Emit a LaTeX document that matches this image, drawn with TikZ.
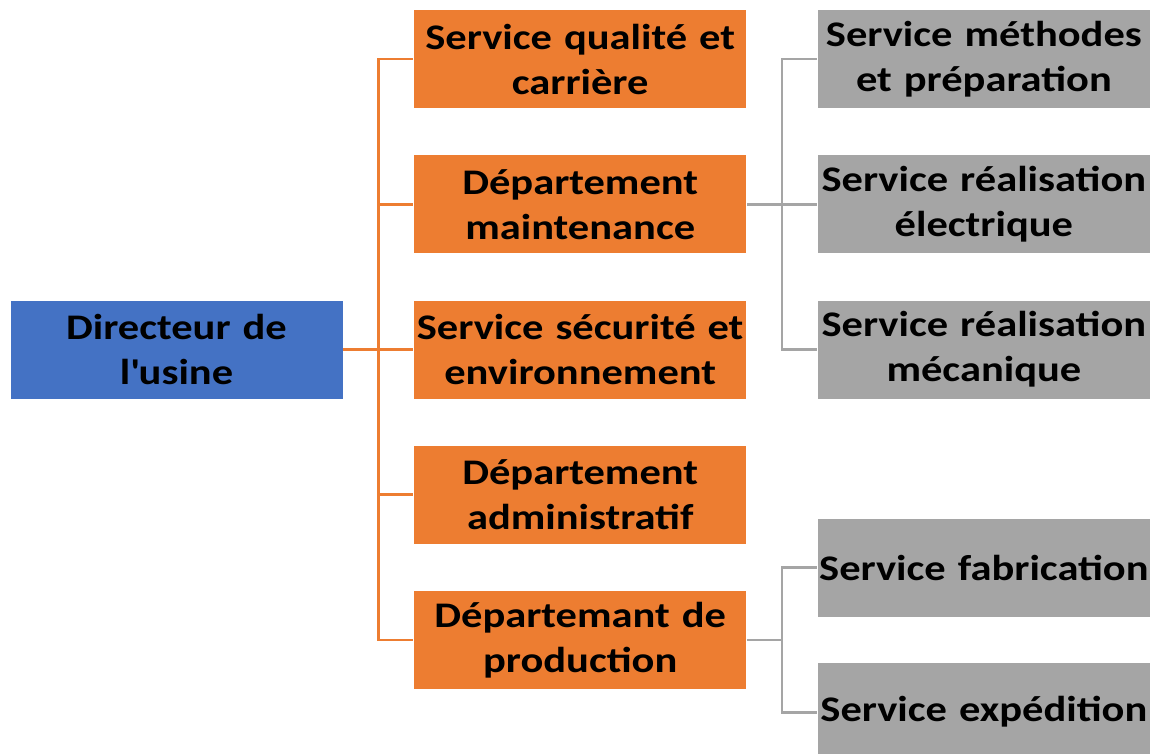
\documentclass[tikz,border=0pt]{standalone}
\usepackage{fontspec}
\setmainfont{Carlito}[FakeStretch=1.18]
\usepackage{tikz}
\usetikzlibrary{positioning}

\definecolor{dirblue}{HTML}{4472C4}
\definecolor{deporange}{HTML}{ED7D31}
\definecolor{servgrey}{HTML}{A5A5A5}

\begin{document}
\begin{tikzpicture}[node distance=0.91cm and 1.4cm]
  \tikzstyle{box}=[rectangle, draw=white, line width=0.4pt, minimum width=6.66cm, minimum height=1.98cm,
                   text width=6.6cm, align=center, inner sep=0pt, text=black,
                   font=\fontsize{20.5pt}{25.6pt}\selectfont\bfseries]
  \tikzstyle{dir}=[box, fill=dirblue]
  \tikzstyle{dep}=[box, fill=deporange]
  \tikzstyle{serv}=[box, fill=servgrey]
  \tikzstyle{orangeline}=[draw=deporange, line width=1.6pt]
  \tikzstyle{greyline}=[draw=servgrey, line width=1.6pt]

  \useasboundingbox (0,0) rectangle (23.06,-15.08);
  \clip (0,0) rectangle (23.06,-15.08);

  \node[dir]  (dir)   at (3.53,-6.99)       {Directeur de\\l\textquotesingle usine};
  \node[dep]  (secu)  [right=of dir]        {Service sécurité et\\environnement};
  \node[dep]  (maint) [above=of secu]       {Département\\maintenance};
  \node[dep]  (qual)  [above=of maint]      {Service qualité et\\carrière};
  \node[dep]  (admin) [below=of secu]       {Département\\administratif};
  \node[dep]  (prod)  [below=of admin]      {Départemant de\\production};

  \node[serv] (elec)  [right=of maint]      {Service réalisation\\électrique};
  \node[serv] (meth)  [above=of elec]       {Service méthodes\\et préparation};
  \node[serv] (meca)  [below=of elec]       {Service réalisation\\mécanique};
  \node[serv] (fab)   [right=of prod, yshift=1.445cm]  {Service fabrication};
  \node[serv] (exped) [right=of prod, yshift=-1.445cm] {Service expédition};

  % directeur -> departements
  \foreach \d in {qual,maint,secu,admin,prod}
    \draw[orangeline] (dir.east) -- ++(0.7,0) |- (\d.west);

  % maintenance -> services
  \foreach \s in {meth,elec,meca}
    \draw[greyline] (maint.east) -- ++(0.7,0) |- (\s.west);

  % production -> services
  \foreach \s in {fab,exped}
    \draw[greyline] (prod.east) -- ++(0.7,0) |- (\s.west);
\end{tikzpicture}
\end{document}
